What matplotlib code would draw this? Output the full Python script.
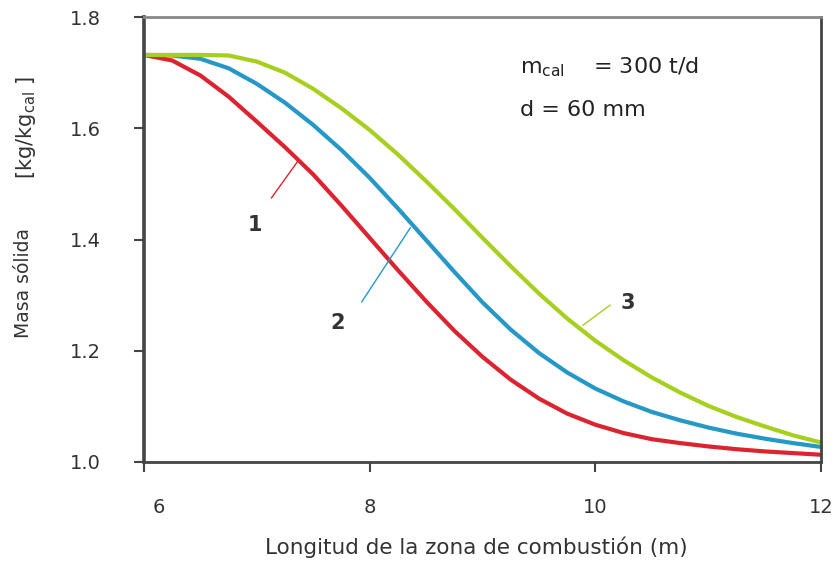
import matplotlib
matplotlib.use("Agg")
import matplotlib.pyplot as plt
from matplotlib.transforms import ScaledTranslation

plt.rcParams['font.family'] = ['DejaVu Sans']
plt.rcParams['mathtext.fontset'] = 'dejavusans'

# combustion zone length (m)
longitud = [6.0, 6.25, 6.5, 6.75, 7.0, 7.25, 7.5, 7.75, 8.0, 8.25, 8.5, 8.75,
            9.0, 9.25, 9.5, 9.75, 10.0, 10.25, 10.5, 10.75, 11.0, 11.25, 11.5, 11.75, 12.0]

# solid mass [kg/kg_cal] for the three cases
masa_1 = [1.732, 1.722, 1.695, 1.657, 1.612, 1.566, 1.517, 1.461, 1.403, 1.345, 1.289, 1.236,
          1.189, 1.148, 1.114, 1.087, 1.067, 1.052, 1.041, 1.034, 1.028, 1.023, 1.019, 1.016, 1.013]
masa_2 = [1.732, 1.731, 1.725, 1.708, 1.680, 1.646, 1.606, 1.561, 1.511, 1.456, 1.399, 1.342,
          1.287, 1.238, 1.196, 1.161, 1.132, 1.109, 1.090, 1.075, 1.062, 1.051, 1.042, 1.034, 1.027]
masa_3 = [1.732, 1.732, 1.732, 1.731, 1.720, 1.700, 1.671, 1.636, 1.597, 1.553, 1.505, 1.455,
          1.403, 1.352, 1.303, 1.258, 1.218, 1.183, 1.152, 1.125, 1.101, 1.081, 1.064, 1.048, 1.035]

etiquetas = ["1", "2", "3"]
colores = ["#dc2430", "#2598c8", "#a6cf1f"]

fig = plt.figure(figsize=(8.37, 5.70), dpi=100)
ax = fig.add_axes([0.172, 0.1895, 0.809, 0.7805])

for y, c in zip([masa_1, masa_2, masa_3], colores):
    ax.plot(longitud, y, color=c, lw=3.0, solid_capstyle='butt')

ax.set_xlim(6, 12)
ax.set_ylim(1.0, 1.8)
ax.set_xticks([6, 8, 10, 12])
ax.set_yticks([1.0, 1.2, 1.4, 1.6, 1.8])
ax.set_yticklabels(["1.0", "1.2", "1.4", "1.6", "1.8"])

ax.tick_params(axis='x', direction='out', length=7, width=1.5, color='#444444',
               labelsize=14, labelcolor='#333333', pad=19)
ax.tick_params(axis='y', direction='out', length=7, width=1.5, color='#444444',
               labelsize=14, labelcolor='#333333', pad=24)

# first x label sits a little right of its tick
lbl = ax.get_xticklabels()[0]
lbl.set_transform(lbl.get_transform() + ScaledTranslation(0.15, 0, fig.dpi_scale_trans))

for side in ['left', 'bottom', 'right']:
    ax.spines[side].set_color('#444444')
    ax.spines[side].set_linewidth(2.0)
ax.spines['left'].set_linewidth(2.6)
ax.spines['top'].set_color('#888888')
ax.spines['top'].set_linewidth(2.0)

# leader lines and curve numbers
ax.plot([7.36, 7.13], [1.540, 1.475], color=colores[0], lw=1.0)
ax.text(6.98, 1.426, etiquetas[0], fontsize=15, fontweight='bold', color='#333333',
        ha='center', va='center')
ax.plot([8.36, 7.93], [1.421, 1.288], color=colores[1], lw=1.0)
ax.text(7.72, 1.250, etiquetas[1], fontsize=15, fontweight='bold', color='#333333',
        ha='center', va='center')
ax.plot([9.89, 10.13], [1.246, 1.282], color=colores[2], lw=1.0)
ax.text(10.29, 1.286, etiquetas[2], fontsize=15, fontweight='bold', color='#333333',
        ha='center', va='center')

ax.text(9.33, 1.710, r"m$_{\mathrm{cal}}$    = 300 t/d", fontsize=16, color='#222222',
        ha='left', va='center')
ax.text(9.33, 1.633, "d = 60 mm", fontsize=16, color='#222222', ha='left', va='center')

fig.text(24 / 837, 1 - 283 / 570, "Masa sólida", rotation=90,
         fontsize=13.5, color='#333333', ha='center', va='center')
fig.text(26 / 837, 1 - 128 / 570, r"[kg/kg$_{\mathrm{cal}}$ ]", rotation=90,
         fontsize=15, color='#333333', ha='center', va='center')
fig.text(476 / 837, 1 - 547 / 570, "Longitud de la zona de combustión (m)", fontsize=15.5,
         color='#333333', ha='center', va='center')

fig.savefig("out.png", dpi=100)
